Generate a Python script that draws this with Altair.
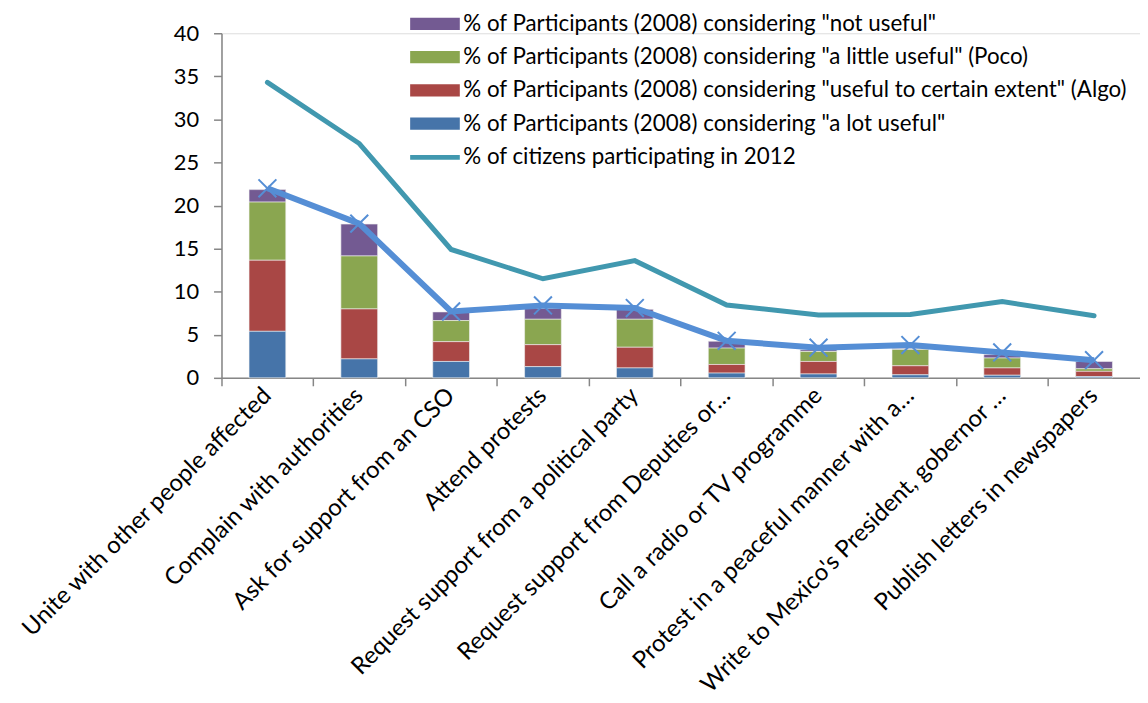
import altair as alt
import pandas as pd

categories = [
    "Unite with other people affected",
    "Complain with authorities",
    "Ask for support from an CSO",
    "Attend protests",
    "Request support from a political party",
    "Request support from Deputies or…",
    "Call a radio or TV programme",
    "Protest in a peaceful manner with a…",
    "Write to Mexico's President, gobernor …",
    "Publish letters in newspapers",
]
a_lot_useful = [5.4, 2.2, 1.9, 1.3, 1.15, 0.55, 0.45, 0.35, 0.3, 0.15]
useful_certain_extent = [8.25, 5.8, 2.3, 2.55, 2.4, 1.0, 1.45, 1.05, 0.85, 0.6]
a_little_useful = [6.75, 6.15, 2.45, 2.95, 3.25, 1.9, 1.15, 1.9, 1.15, 0.3]
not_useful = [1.45, 3.7, 1.0, 1.25, 1.15, 0.8, 0.2, 0.1, 0.4, 0.85]
total_2008 = [22.0, 17.9, 7.7, 8.4, 8.1, 4.3, 3.5, 3.8, 2.95, 2.05]
citizens_2012 = [34.3, 27.2, 14.9, 11.5, 13.6, 8.45, 7.3, 7.35, 8.85, 7.2]

series_names = [
    '% of Participants (2008) considering "not useful"',
    '% of Participants (2008) considering "a little useful" (Poco)',
    '% of Participants (2008) considering "useful to certain extent" (Algo)',
    '% of Participants (2008) considering "a lot useful"',
]
series_values = [not_useful, a_little_useful, useful_certain_extent, a_lot_useful]
series_colors = ["#735A92", "#8AA650", "#A94745", "#4674A9"]
line_name = "% of citizens participating in 2012"

rows = []
for si, (name, vals) in enumerate(zip(series_names, series_values)):
    for c, v in zip(categories, vals):
        rows.append({"category": c, "series": name, "value": v, "order": 3 - si})
bars_df = pd.DataFrame(rows)
lines_df = pd.DataFrame({
    "category": categories,
    "total": total_2008,
    "citizens": citizens_2012,
    "lname": [line_name] * len(categories),
})

FONT = "Lato"
LEG_X = 202.5
x_scale = alt.Scale(domain=categories, paddingInner=0, paddingOuter=0)
y_scale = alt.Scale(domain=[0, 40])
y_axis = alt.Axis(values=[0, 5, 10, 15, 20, 25, 30, 35, 40], title=None, grid=False,
                  labelFontSize=22, labelFont=FONT, labelColor="#000000",
                  domainColor="#868686", domainWidth=1.5, tickColor="#868686",
                  tickWidth=1.5, tickSize=8, labelPadding=15)

x_axis_labels = alt.Axis(title=None, labelAngle=-45, labelAlign="right", labelBaseline="middle",
                         labelFontSize=24, labelFont=FONT, labelColor="#000000",
                         labelLimit=700, ticks=False, domainColor="#868686", domainWidth=1.5,
                         labelPadding=14, orient="bottom")
x_axis_ticks = alt.Axis(title=None, labels=False, ticks=True, bandPosition=0, domain=False,
                        tickColor="#868686", tickWidth=1.5, tickSize=8, orient="bottom")

bars = alt.Chart(bars_df).mark_bar(size=37, stroke="#f2f2f2", strokeWidth=0.6).encode(
    x=alt.X("category:N", scale=x_scale, sort=categories, axis=x_axis_labels),
    y=alt.Y("value:Q", stack="zero", scale=y_scale, axis=y_axis),
    color=alt.Color("series:N", scale=alt.Scale(domain=series_names, range=series_colors),
                    legend=alt.Legend(title=None, orient="none", legendX=LEG_X, legendY=-22,
                                      symbolType="M-2,-0.5H2V0.5H-2Z", symbolSize=625,
                                      symbolStrokeWidth=0, labelOffset=16,
                                      labelFontSize=22.5, labelFont=FONT, labelColor="#000000",
                                      labelLimit=900, rowPadding=9.5, padding=0)),
    order=alt.Order("order:Q"),
)

teal = alt.Chart(lines_df).mark_line(strokeWidth=5, strokeCap="round").encode(
    x=alt.X("category:N", scale=x_scale, sort=categories, axis=x_axis_ticks),
    y=alt.Y("citizens:Q", scale=y_scale, axis=y_axis),
    stroke=alt.Stroke("lname:N", scale=alt.Scale(domain=[line_name], range=["#4198AF"]),
                      legend=alt.Legend(title=None, orient="none", legendX=LEG_X - 2.5, legendY=110,
                                        symbolType="M-2,0H2", symbolSize=625,
                                        symbolStrokeWidth=5, labelOffset=13.5,
                                        labelFontSize=22.5, labelFont=FONT, labelColor="#000000",
                                        labelLimit=900, padding=0)),
)

blue_line = alt.Chart(lines_df).mark_line(color="#558ED5", strokeWidth=6).encode(
    x=alt.X("category:N", scale=x_scale, sort=categories, axis=None),
    y=alt.Y("total:Q", scale=y_scale, axis=y_axis),
)
blue_pts = alt.Chart(lines_df).mark_point(shape="M-1,-1L1,1M1,-1L-1,1", size=324, filled=False,
                                           color="#558ED5", strokeWidth=2, opacity=1).encode(
    x=alt.X("category:N", scale=x_scale, sort=categories, axis=None),
    y=alt.Y("total:Q", scale=y_scale, axis=y_axis),
)

chart = alt.layer(bars, teal, blue_line, blue_pts).resolve_axis(x="independent").resolve_scale(
    x="shared", y="shared"
).properties(
    width=925, height=347, padding={"left": 9, "top": 1, "right": 0, "bottom": 0}
).configure_view(stroke=None).configure(background="#ffffff")

chart.save("out.html", embed_options={"renderer": "svg", "actions": False})
